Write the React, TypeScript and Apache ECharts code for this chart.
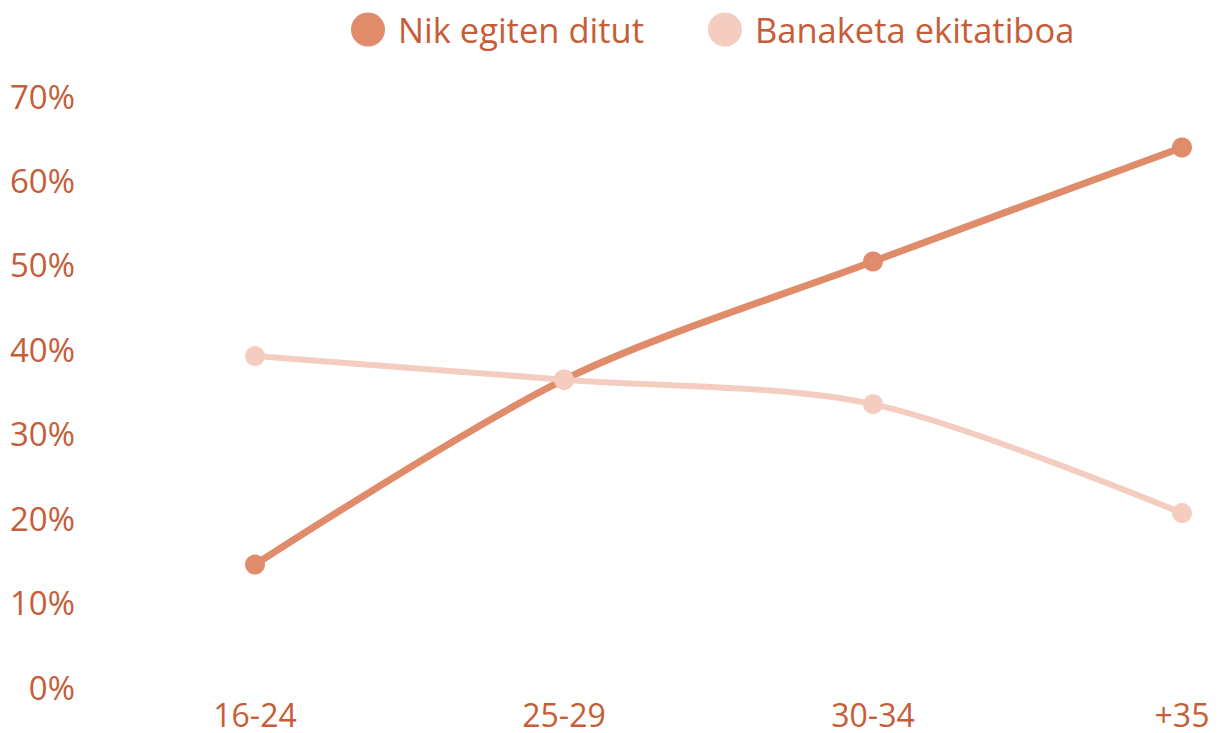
import React, { useEffect, useRef } from "react";
import * as echarts from "echarts";

const categories = ["16-24", "25-29", "30-34", "+35"];
const nikEgitenDitut = [14.5, 36.4, 50.4, 63.9];
const banaketaEkitatiboa = [39.2, 36.4, 33.5, 20.6];
const seriesNames = ["Nik egiten ditut", "Banaketa ekitatiboa"];

const TEXT = "#c65d39";
const DARK = "#e08b69";
const LIGHT = "#f5cdc0";
const FONT = "'Open Sans', sans-serif";

export default function App() {
  const ref = useRef<HTMLDivElement>(null);
  useEffect(() => {
    const chart = echarts.init(ref.current!, null, { renderer: "svg" });
    chart.setOption({
      animation: false,
      textStyle: { fontFamily: FONT },
      legend: {
        top: 7,
        left: 346,
        icon: "circle",
        itemWidth: 36,
        itemHeight: 34,
        itemGap: 64,
        textStyle: { color: TEXT, fontSize: 34.5, fontFamily: FONT, padding: [0, 0, 0, 7] },
        data: seriesNames,
      },
      grid: { left: 255, right: 37, top: 96, bottom: 46, containLabel: false },
      xAxis: {
        type: "category",
        data: categories,
        boundaryGap: false,
        axisLine: { show: false },
        axisTick: { show: false },
        axisLabel: { color: TEXT, fontSize: 32, lineHeight: 26, fontFamily: FONT, margin: 14 },
        splitLine: { show: false },
      },
      yAxis: {
        type: "value",
        min: 0,
        max: 70,
        interval: 10,
        axisLine: { show: false },
        axisTick: { show: false },
        splitLine: { show: false },
        axisLabel: { color: TEXT, fontSize: 33, fontFamily: FONT, margin: 180, formatter: "{value}%" },
      },
      series: [
        {
          name: seriesNames[0],
          type: "line",
          data: nikEgitenDitut,
          smooth: 0.3,
          symbol: "circle",
          symbolSize: 20,
          lineStyle: { color: DARK, width: 7 },
          itemStyle: { color: DARK },
          z: 2,
        },
        {
          name: seriesNames[1],
          type: "line",
          data: banaketaEkitatiboa,
          smooth: 0.3,
          symbol: "circle",
          symbolSize: 20,
          lineStyle: { color: LIGHT, width: 6 },
          itemStyle: { color: LIGHT },
          z: 3,
        },
      ],
    });
    return () => chart.dispose();
  }, []);
  return <div ref={ref} style={{ width: 1219, height: 733, position: "absolute", left: 0, top: 0 }} />;
}
